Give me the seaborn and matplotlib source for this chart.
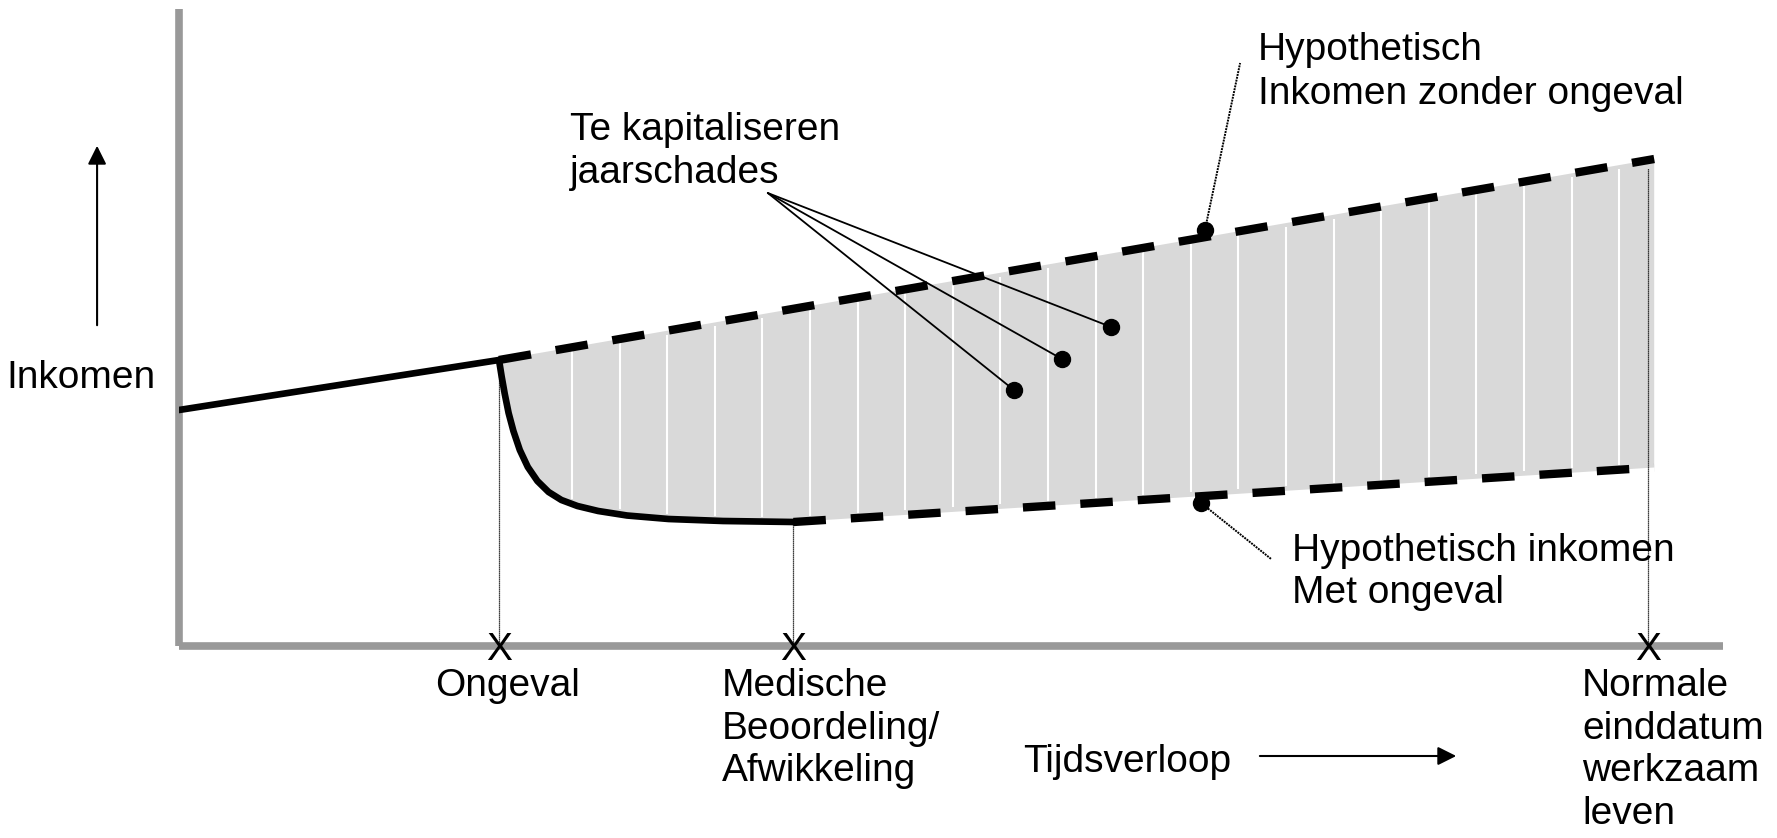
import numpy as np
import matplotlib
matplotlib.use("Agg")
import matplotlib.pyplot as plt
import seaborn as sns

# income before the accident
pre_t = [0.0, 10.0]
pre_y = [23.6, 28.6]

# income drop after the accident up to the medical assessment
curve_t = [10.0, 10.08, 10.18, 10.3, 10.45, 10.65, 10.9, 11.2, 11.55, 11.95, 12.45, 13.1, 14.0, 15.3, 17.0, 19.2]
curve_y = [28.6, 27.0, 25.2, 23.3, 21.5, 19.6, 17.9, 16.5, 15.4, 14.6, 14.0, 13.5, 13.05, 12.7, 12.5, 12.4]

# hypothetical income without / with accident
upper_t = [10.0, 46.1]
upper_y = [28.6, 48.7]
lower_t = [19.2, 46.1]
lower_y = [12.4, 17.85]

# events on the time axis
event_t = [10.0, 19.2, 45.9]
event_top = [28.6, 12.4, 47.8]
event_labels = ["Ongeval", "Medische\nBeoordeling/\nAfwikkeling", "Normale\neinddatum\nwerkzaam\nleven"]
event_label_x = [8.0, 16.97, 43.84]

# annotation points
jaar_dot_t = [26.09, 27.59, 29.13]
jaar_dot_y = [25.6, 28.7, 31.9]
jaar_from = (18.4, 45.3)
upper_dot = (32.06, 41.6)
upper_leader = (33.16, 58.3)
lower_dot = (31.94, 14.3)
lower_leader = (34.13, 8.7)

sns.set_theme(style="white")
plt.rcParams["font.family"] = ["Liberation Sans", "DejaVu Sans"]
plt.rcParams["text.color"] = "black"
fs = 28
ls_txt = 1.24

fig = plt.figure(figsize=(17.77, 8.38), dpi=100)
ax = fig.add_axes([179 / 1777, 192 / 838, 1544 / 1777, 637 / 838])
ax.set_xlim(0, 48.25)
ax.set_ylim(0, 63.7)
ax.set_xticks([])
ax.set_yticks([])
for side in ["top", "right"]:
    ax.spines[side].set_visible(False)
for side in ["left", "bottom"]:
    ax.spines[side].set_color("#999999")
    ax.spines[side].set_linewidth(5.5)
    ax.spines[side].set_capstyle("butt")
    ax.spines[side].set_zorder(1)

# shaded area: capitalised yearly damages
poly_t = curve_t + lower_t[1:] + upper_t[::-1]
poly_y = curve_y + lower_y[1:] + upper_y[::-1]
ax.fill(poly_t, poly_y, color="#d9d9d9", lw=0, zorder=1)

low_t = curve_t + lower_t[1:]
low_y = curve_y + lower_y[1:]
hatch_t = np.arange(12.28, 45.6, 1.4875)
ax.vlines(hatch_t, np.interp(hatch_t, low_t, low_y) + 0.5,
          np.interp(hatch_t, upper_t, upper_y) - 0.4,
          color="white", lw=1.5, zorder=2)

# thin dotted guides
ax.vlines(event_t, 0, event_top, color="black", lw=0.9, linestyles=(0, (1, 0.6)), zorder=3)

sns.lineplot(x=pre_t, y=pre_y, color="black", lw=4.8, ax=ax, zorder=4)
sns.lineplot(x=curve_t, y=curve_y, color="black", lw=4.8, ax=ax, zorder=4)
ax.plot(upper_t, upper_y, color="black", lw=6, dashes=(3.9, 3.0), zorder=4)
ax.plot(lower_t, lower_y, color="black", lw=6, dashes=(3.9, 3.0), zorder=4)

for t, lab, lx in zip(event_t, event_labels, event_label_x):
    ax.annotate("X", (t, 0), xytext=(0, -10), textcoords="offset points",
                ha="center", va="baseline", fontsize=fs, annotation_clip=False, zorder=5)
    ax.text(lx, -2.2, lab, ha="left", va="top", fontsize=fs, linespacing=ls_txt, clip_on=False)

# leaders for "Te kapitaliseren jaarschades"
for t, y in zip(jaar_dot_t, jaar_dot_y):
    ax.plot([jaar_from[0], t], [jaar_from[1], y], color="black", lw=1.3, zorder=5)
ax.plot(jaar_dot_t, jaar_dot_y, "o", color="black", ms=11.5, zorder=6)

ax.plot([upper_dot[0], upper_leader[0]], [upper_dot[1], upper_leader[1]],
        color="black", lw=1.4, ls=(0, (1, 0.5)), zorder=5)
ax.plot([lower_dot[0], lower_leader[0]], [lower_dot[1], lower_leader[1]],
        color="black", lw=1.4, ls=(0, (1, 0.5)), zorder=5)
ax.plot([upper_dot[0], lower_dot[0]], [upper_dot[1], lower_dot[1]], "o",
        color="black", ms=11.5, zorder=6)

ax.text(12.22, 53.4, "Te kapitaliseren\njaarschades", ha="left", va="top",
        fontsize=fs, linespacing=1.25)
ax.text(33.72, 61.4, "Hypothetisch\nInkomen zonder ongeval", ha="left", va="top",
        fontsize=fs, linespacing=1.3, clip_on=False)
ax.text(34.78, 11.3, "Hypothetisch inkomen\nMet ongeval", ha="left", va="top",
        fontsize=fs, linespacing=1.2)

# axis captions with arrows
ax.text(-5.4, 25.8, "Inkomen", ha="left", va="baseline", fontsize=fs, clip_on=False)
ax.annotate("", xy=(-2.56, 50.3), xytext=(-2.56, 31.8), annotation_clip=False,
            arrowprops=dict(arrowstyle="-|>", color="black", lw=1.5, mutation_scale=28))
ax.text(26.375, -12.6, "Tijdsverloop", ha="left", va="baseline", fontsize=fs, clip_on=False)
ax.annotate("", xy=(40.0, -11.0), xytext=(33.69, -11.0), annotation_clip=False,
            arrowprops=dict(arrowstyle="-|>", color="black", lw=1.5, mutation_scale=28))

fig.savefig("out.png", dpi=100)
